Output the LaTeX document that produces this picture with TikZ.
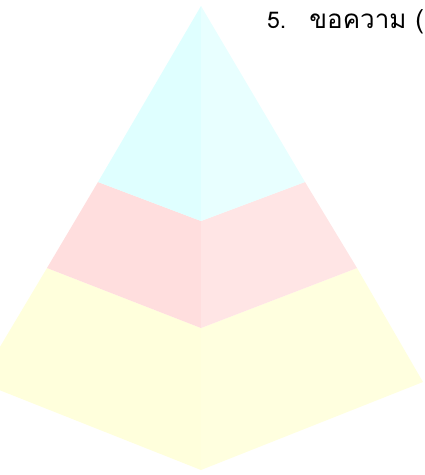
\documentclass[tikz,border=0pt]{standalone}
\usepackage{fontspec}
\newfontfamily\thaifont[Script=Thai]{Loma}
\usetikzlibrary{positioning,calc}
\definecolor{cyanL}{HTML}{DFFFFF}
\definecolor{cyanR}{HTML}{E8FFFF}
\definecolor{pinkL}{HTML}{FFDEDE}
\definecolor{pinkR}{HTML}{FFE5E5}
\definecolor{yellowL}{HTML}{FFFFDC}
\definecolor{yellowR}{HTML}{FFFFDF}

\begin{document}
\begin{tikzpicture}[x=1pt, y=-1pt, every node/.style={font=\thaifont\fontsize{23}{26}\selectfont}]
    \useasboundingbox (0,0) rectangle (425,475);
    \clip (0,0) rectangle (425,475);

    % corners of the pyramid
    \coordinate (apex) at (201,6);
    \coordinate (tip) at (201,470);
    \coordinate (left) at (-21,382);
    \coordinate (right) at (423,382);
    % band borders
    \coordinate (topL) at (98,182);
    \coordinate (topM) at (201,221);
    \coordinate (topR) at (305,182);
    \coordinate (midL) at (47,268);
    \coordinate (midM) at (201,328);
    \coordinate (midR) at (357,268);

    % bottom band
    \fill[yellowL] (midL) -- (midM) -- (tip) -- (left) -- cycle;
    \fill[yellowR] (midM) -- (midR) -- (right) -- (tip) -- cycle;
    % middle band
    \fill[pinkL] (topL) -- (topM) -- (midM) -- (midL) -- cycle;
    \fill[pinkR] (topM) -- (topR) -- (midR) -- (midM) -- cycle;
    % top band
    \fill[cyanL] (apex) -- (topM) -- (topL) -- cycle;
    \fill[cyanR] (apex) -- (topR) -- (topM) -- cycle;

    \node[anchor=base west, inner sep=0pt] (label5) at (267,28) {5.\hspace{23pt}{\fontsize{26}{29}\selectfont ขอความ (}};
\end{tikzpicture}
\end{document}
